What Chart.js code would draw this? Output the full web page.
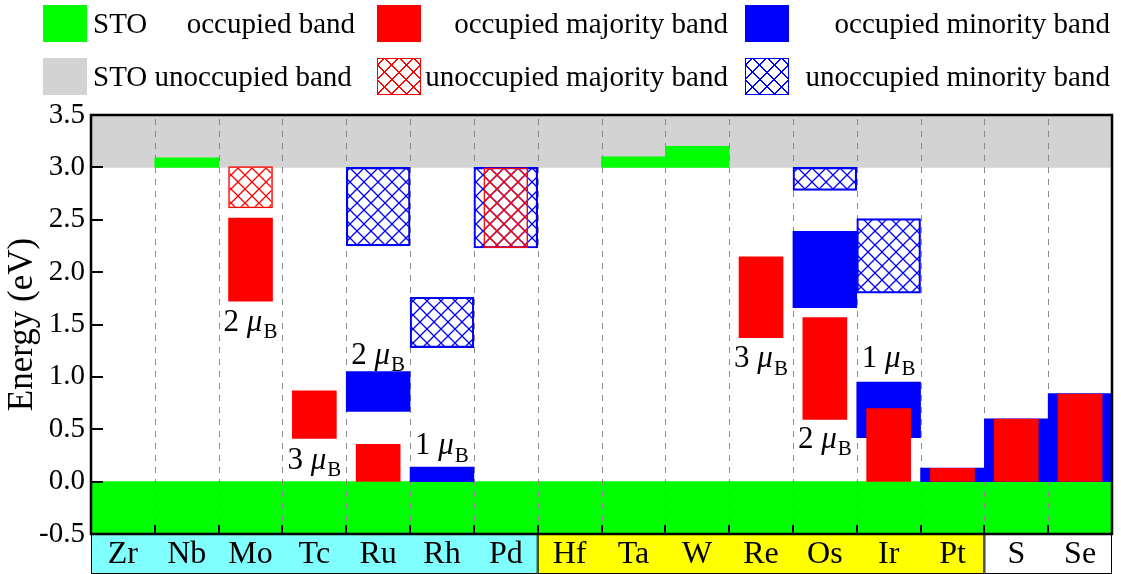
<!DOCTYPE html>
<html>
<head>
<meta charset="utf-8">
<script src="https://cdn.jsdelivr.net/npm/chart.js@4.4.1/dist/chart.umd.min.js"></script>
<style>
  body { margin: 0; background: #fff; }
  #wrap { position: relative; width: 1121px; height: 574px; }
  #legend { position: absolute; left: 0; top: 0; width: 1121px; height: 110px;
    font: 29px 'Liberation Serif', 'Times New Roman', serif; color: #000; }
  .sw { position: absolute; width: 44px; height: 37px; box-sizing: border-box; }
  .tx { position: absolute; white-space: nowrap; line-height: 37px; }
  .r1 { top: 5px; }
  .r2 { top: 58px; }
  .hatch-red { border: 1.5px solid #ff0000;
    background-image: repeating-linear-gradient(45deg, transparent 0 9px, #ff0000 9px 10.3px),
                      repeating-linear-gradient(-45deg, transparent 0 9px, #ff0000 9px 10.3px); }
  .hatch-blue { border: 1.5px solid #0000ff;
    background-image: repeating-linear-gradient(45deg, transparent 0 9px, #0000ff 9px 10.3px),
                      repeating-linear-gradient(-45deg, transparent 0 9px, #0000ff 9px 10.3px); }
</style>
</head>
<body>
<div id="wrap">
  <canvas id="bands" width="1121" height="574"></canvas>
  <div id="legend">
    <div class="sw r1" style="left:43px;background:#00ff00"></div>
    <div class="tx r1" style="left:93px">STO</div>
    <div class="tx r1" style="right:766px">occupied band</div>
    <div class="sw r1" style="left:377px;background:#ff0000"></div>
    <div class="tx r1" style="right:393px">occupied majority band</div>
    <div class="sw r1" style="left:745px;background:#0000ff"></div>
    <div class="tx r1" style="right:11px">occupied minority band</div>

    <div class="sw r2" style="left:43px;background:#d3d3d3"></div>
    <div class="tx r2" style="left:93px">STO unoccupied band</div>
    <div class="sw r2 hatch-red" style="left:377px"></div>
    <div class="tx r2" style="right:393px">unoccupied majority band</div>
    <div class="sw r2 hatch-blue" style="left:745px"></div>
    <div class="tx r2" style="right:11px">unoccupied minority band</div>
  </div>
</div>
<script>
// dopant elements along the x axis
const elements = ["Zr", "Nb", "Mo", "Tc", "Ru", "Rh", "Pd", "Hf", "Ta", "W", "Re", "Os", "Ir", "Pt", "S", "Se"];

// STO band edges (eV)
const stoValence = [-0.5, 0.0];
const stoConduction = [3.0, 3.5];

// shifted STO conduction band edge
const stoCbmShift = [null, [3.0, 3.09], null, null, null, null, null, null, [3.0, 3.10], [3.0, 3.20], null, null, null, null, null, null];

// impurity bands [bottom, top] in eV
const occMajority = [null, null, [1.72, 2.52], [0.41, 0.87], [0.0, 0.36], null, null, null, null, null,
  [1.37, 2.15], [0.59, 1.57], [0.0, 0.70], [0.0, 0.13], [0.0, 0.60], [0.0, 0.84]];
const unoccMajority = [null, null, [2.61, 3.01], null, null, null, [2.23, 3.0], null, null, null,
  null, null, null, null, null, null];
const occMinority = [null, null, null, null, [0.67, 1.05], [0.0, 0.14], null, null, null, null,
  null, [1.66, 2.39], [0.42, 0.95], [0.0, 0.13], [0.0, 0.60], [0.0, 0.84]];
const unoccMinority = [null, null, null, null, [2.25, 3.0], [1.28, 1.76], [2.23, 3.0], null, null, null,
  null, [2.78, 3.0], [1.80, 2.51], null, null, null];

// magnetic moments (mu_B) and the energy where each label sits
const moments = [null, null, 2, 3, 2, 1, null, null, null, null, 3, 2, 1, null, null, null];
const momentAt = [null, null, 1.52, 0.20, 1.20, 0.34, null, null, null, null, 1.17, 0.40, 1.17, null, null, null];

const yTicks = [-0.5, 0.0, 0.5, 1.0, 1.5, 2.0, 2.5, 3.0, 3.5];

const serif = "'Liberation Serif', 'Times New Roman', serif";

function hatch(color) {
  const s = 14;
  const c = document.createElement("canvas");
  c.width = s; c.height = s;
  const g = c.getContext("2d");
  g.strokeStyle = color;
  g.lineWidth = 1.3;
  g.beginPath();
  g.moveTo(-1, -1); g.lineTo(s + 1, s + 1);
  g.moveTo(s + 1, -1); g.lineTo(-1, s + 1);
  g.stroke();
  return g.createPattern(c, "repeat");
}

// background strips under the element names
const strips = [
  { from: 0, to: 6, color: "#80ffff" },
  { from: 7, to: 13, color: "#ffff00" },
  { from: 14, to: 15, color: "#ffffff" },
];

const decor = {
  id: "decor",
  beforeDraw(chart) {
    const { ctx, chartArea: a, scales: { x } } = chart;
    const w = x.getPixelForValue(1) - x.getPixelForValue(0);
    ctx.save();
    strips.forEach(s => {
      const l = x.getPixelForValue(s.from) - w / 2;
      const r = x.getPixelForValue(s.to) + w / 2;
      ctx.fillStyle = s.color;
      ctx.fillRect(l, a.bottom, r - l, chart.height - a.bottom);
      ctx.strokeStyle = "#000";
      ctx.lineWidth = 1;
      ctx.strokeRect(l + 0.5, a.bottom, r - l - 1, chart.height - a.bottom - 0.5);
    });
    ctx.restore();
  },
  afterDatasetDraw(chart, args) {
    // dashed separators sit above the STO bands, below the impurity bands
    if (chart.data.datasets[args.index].label !== "STO occupied band") return;
    const { ctx, chartArea: a, scales: { x } } = chart;
    const w = x.getPixelForValue(1) - x.getPixelForValue(0);
    ctx.save();
    ctx.strokeStyle = "#8a8a8a";
    ctx.lineWidth = 1;
    ctx.setLineDash([6, 6]);
    for (let i = 1; i < elements.length; i++) {
      const px = Math.round(x.getPixelForValue(i) - w / 2) + 0.5;
      ctx.beginPath();
      ctx.moveTo(px, a.top + 4);
      ctx.lineTo(px, a.bottom);
      ctx.stroke();
    }
    ctx.restore();
  },
  afterDraw(chart) {
    const { ctx, chartArea: a, scales: { x, y } } = chart;
    const w = x.getPixelForValue(1) - x.getPixelForValue(0);
    ctx.save();
    ctx.strokeStyle = "#000";
    ctx.lineWidth = 2;
    // inward ticks
    ctx.beginPath();
    yTicks.forEach(v => {
      const py = Math.round(y.getPixelForValue(v));
      ctx.moveTo(a.left, py);
      ctx.lineTo(a.left + 12, py);
    });
    for (let i = 1; i < elements.length; i++) {
      const px = Math.round(x.getPixelForValue(i) - w / 2);
      ctx.moveTo(px, a.bottom);
      ctx.lineTo(px, a.bottom - 9);
    }
    ctx.stroke();
    ctx.lineWidth = 2.5;
    ctx.strokeRect(a.left, a.top, a.right - a.left, a.bottom - a.top);

    // magnetic moment labels
    ctx.fillStyle = "#000";
    ctx.textBaseline = "middle";
    ctx.textAlign = "left";
    moments.forEach((m, i) => {
      if (m === null) return;
      const main = "31px " + serif, ital = "italic 31px " + serif, sub = "21px " + serif;
      ctx.font = main; const w1 = ctx.measureText(m + " ").width;
      ctx.font = ital; const w2 = ctx.measureText("\u03bc").width;
      ctx.font = sub; const w3 = ctx.measureText("B").width;
      let px = x.getPixelForValue(i) - (w1 + w2 + w3 + 1) / 2;
      const py = y.getPixelForValue(momentAt[i]);
      ctx.font = main; ctx.fillText(m + " ", px, py); px += w1;
      ctx.font = ital; ctx.fillText("\u03bc", px, py); px += w2 + 1;
      ctx.font = sub; ctx.fillText("B", px, py + 10);
    });
    ctx.restore();
  }
};

const full = { barPercentage: 1, categoryPercentage: 1, grouped: false, borderWidth: 0 };
const narrow = { barPercentage: 0.7, categoryPercentage: 1, grouped: false, borderWidth: 0 };

new Chart(document.getElementById("bands"), {
  type: "bar",
  data: {
    labels: elements,
    datasets: [
      { ...full, label: "STO unoccupied band", data: elements.map(() => stoConduction),
        backgroundColor: "#d3d3d3", order: 7 },
      { ...full, label: "STO occupied band", data: elements.map(() => stoValence),
        backgroundColor: "#00ff00", order: 6 },
      { ...full, label: "STO CBM", data: stoCbmShift, backgroundColor: "#00ff00", order: 5 },
      { ...full, label: "unoccupied minority band", data: unoccMinority, backgroundColor: hatch("#0000ff"),
        borderColor: "#0000ff", borderWidth: 1.5, borderSkipped: false, order: 4 },
      { ...full, label: "occupied minority band", data: occMinority, backgroundColor: "#0000ff", order: 3 },
      { ...narrow, label: "unoccupied majority band", data: unoccMajority, backgroundColor: hatch("#ff0000"),
        borderColor: "#ff0000", borderWidth: 1.5, borderSkipped: false, order: 2 },
      { ...narrow, label: "occupied majority band", data: occMajority, backgroundColor: "#ff0000", order: 1 },
    ],
  },
  options: {
    responsive: false,
    animation: false,
    events: [],
    layout: { padding: { top: 115, right: 9, left: 0, bottom: 0 } },
    plugins: { legend: { display: false }, tooltip: { enabled: false } },
    scales: {
      x: {
        grid: { display: false, drawTicks: false },
        border: { display: false },
        ticks: { color: "#000", font: { family: serif, size: 32 }, padding: 1, maxRotation: 0 },
        afterFit: s => { s.height = 40; },
      },
      y: {
        min: -0.5,
        max: 3.5,
        grid: { display: false, drawTicks: false },
        border: { display: false },
        ticks: { stepSize: 0.5, color: "#000", font: { family: serif, size: 29 }, padding: 6,
          callback: v => v.toFixed(1) },
        title: { display: true, text: "Energy (eV)", color: "#000", font: { family: serif, size: 35 }, padding: 2 },
        afterFit: s => { s.width = 91; },
      },
    },
  },
  plugins: [decor],
});
</script>
</body>
</html>
